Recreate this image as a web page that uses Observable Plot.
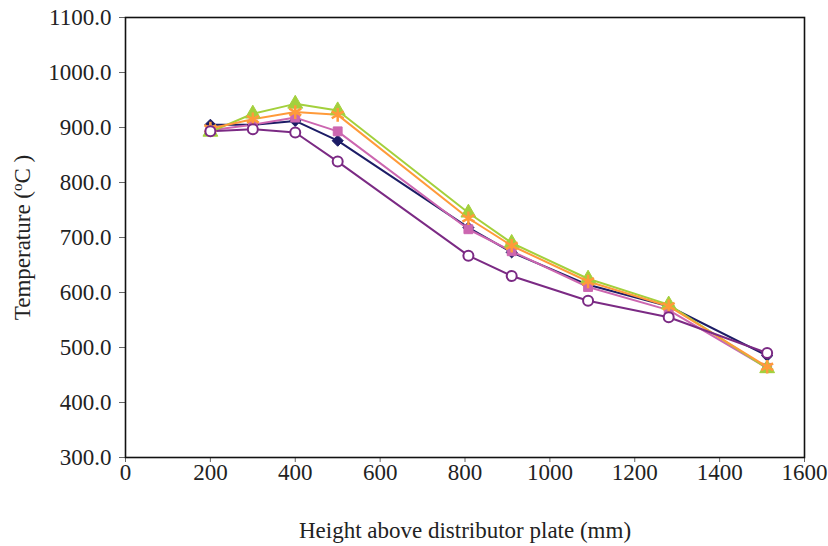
<!DOCTYPE html>
<html><head><meta charset="utf-8">
<script src="https://cdn.jsdelivr.net/npm/d3@7"></script>
<script src="https://cdn.jsdelivr.net/npm/@observablehq/plot@0.6"></script>
<style>body{margin:0;background:#fff}</style>
</head><body><div id="chart"></div>
<script>
const heights = [200, 300, 400, 500, 808, 910, 1090, 1280, 1512];
const seriesNames = ["A", "B", "C", "D", "E"];
const tempA = [905, 905, 912, 876, 718, 673, 614, 575, 485];
const tempB = [895, 905, 918, 893, 715, 675, 610, 568, 463];
const tempC = [892, 925, 943, 931, 745, 690, 625, 578, 462];
const tempD = [898, 915, 928, 923, 735, 685, 620, 575, 465];
const tempE = [893, 897, 891, 838, 667, 630, 585, 555, 490];
const colors = ["#1c1c66", "#cc66b0", "#a3d03c", "#ff9a3a", "#7b2a84"];
const symbols = ["diamond2", "square", "triangle", "asterisk", "circle"];
const xTicks = [0, 200, 400, 600, 800, 1000, 1200, 1400, 1600];
const yTicks = [300, 400, 500, 600, 700, 800, 900, 1000, 1100];

const all = [tempA, tempB, tempC, tempD, tempE];
const data = [];
all.forEach((vals, i) => vals.forEach((v, j) => data.push({s: seriesNames[i], x: heights[j], y: v, i})));

const marks = [];
seriesNames.forEach((name, i) => {
  const rows = data.filter(d => d.s === name);
  marks.push(Plot.line(rows, {x: "x", y: "y", stroke: colors[i], strokeWidth: 2}));
});
seriesNames.forEach((name, i) => {
  const rows = data.filter(d => d.s === name);
  const sym = symbols[i];
  if (sym === "circle") {
    marks.push(Plot.dot(rows, {x: "x", y: "y", symbol: "circle", r: 5, stroke: colors[i], strokeWidth: 2, fill: "white"}));
  } else if (sym === "asterisk") {
    marks.push(Plot.dot(rows, {x: "x", y: "y", symbol: "asterisk", r: 6.5, stroke: colors[i], strokeWidth: 2.5}));
  } else {
    marks.push(Plot.dot(rows, {x: "x", y: "y", symbol: sym, r: sym === "triangle" ? 5.5 : 5, fill: colors[i], stroke: colors[i], strokeWidth: 1}));
  }
});

const chart = Plot.plot({
  width: 828,
  height: 546,
  marginLeft: 125,
  marginRight: 24,
  marginTop: 17,
  marginBottom: 89,
  style: {fontFamily: "'Liberation Serif', 'Times New Roman', serif", fontSize: "23px", color: "#222", background: "#fff"},
  x: {domain: [0, 1600]},
  y: {domain: [300, 1100]},
  marks: [
    Plot.axisX({ticks: xTicks, tickSize: 5, tickPadding: 1, stroke: "#666", tickFormat: d => String(d), label: "Height above distributor plate (mm)", labelAnchor: "center", labelOffset: 80, labelArrow: "none"}),
    Plot.axisY({ticks: yTicks, tickSize: 6, tickPadding: 8, stroke: "#666", tickFormat: d => d.toFixed(1), label: "Temperature (°C )", labelAnchor: "center", labelOffset: 112, labelArrow: "none"}),
    ...marks,
    Plot.frame({stroke: "#111", strokeWidth: 1.6})
  ]
});
document.getElementById("chart").appendChild(chart);

// superscript "o" in y label
d3.select(chart).selectAll("text").each(function() {
  const t = d3.select(this);
  if (t.text() === "Temperature (°C )") {
    t.text(null);
    t.append("tspan").text("Temperature (");
    t.append("tspan").attr("baseline-shift", "super").attr("font-size", "15px").text("o");
    t.append("tspan").text("C )");
  }
});
</script>
</body></html>
